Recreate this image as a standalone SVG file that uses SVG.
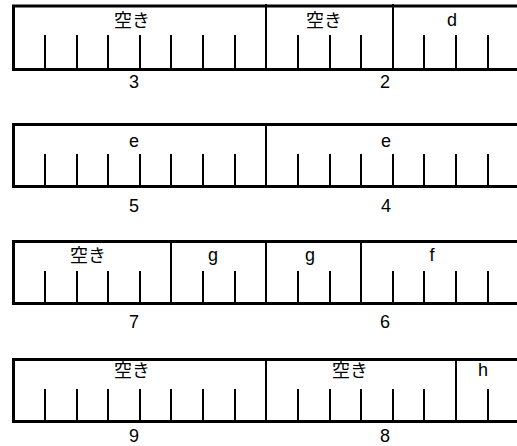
<svg xmlns="http://www.w3.org/2000/svg" width="517" height="446" viewBox="0 0 517 446">
<style>
.frame{stroke:#000;stroke-width:3;fill:none;stroke-linecap:square}
.tick{stroke:#000;stroke-width:2;fill:none}
.div{stroke:#000;stroke-width:2;fill:none}
text{font-family:"Liberation Sans","Noto Sans CJK JP",Arial,sans-serif;font-size:18px;fill:#000;text-anchor:middle}
</style>
<rect width="517" height="446" fill="#fff"/>
<g id="row1">
<path class="frame" d="M13.5,69.5 V6 H517 M13.5,69.5 H517"/>
<path class="tick" d="M45,35V69M77,35V69M108,35V69M140,35V69M171,35V69M203,35V69M235,35V69M298,35V69M330,35V69M361,35V69M424,35V69M456,35V69M488,35V69"/>
<path class="div" d="M266,4V69M393,4V69"/>
<text x="132" y="27">空き</text>
<text x="324" y="27">空き</text>
<text x="452" y="26">d</text>
<text x="134" y="88">3</text>
<text x="385" y="88">2</text>
</g>
<g id="row2">
<path class="frame" d="M13.5,186.5 V124.5 H517 M13.5,186.5 H517"/>
<path class="tick" d="M45,154V186M77,154V186M108,154V186M140,154V186M171,154V186M203,154V186M235,154V186M298,154V186M330,154V186M361,154V186M393,154V186M424,154V186M456,154V186M488,154V186"/>
<path class="div" d="M266,124V186"/>
<text x="134" y="147">e</text>
<text x="386" y="147">e</text>
<text x="134" y="212">5</text>
<text x="386" y="212">4</text>
</g>
<g id="row3">
<path class="frame" d="M13.5,303.5 V241.5 H517 M13.5,303.5 H517"/>
<path class="tick" d="M45,271V303M77,271V303M108,271V303M140,271V303M203,271V303M235,271V303M298,271V303M330,271V303M393,271V303M424,271V303M456,271V303M488,271V303"/>
<path class="div" d="M171,241V303M266,241V303M361,241V303"/>
<text x="88" y="262">空き</text>
<text x="213" y="261">g</text>
<text x="310" y="261">g</text>
<text x="432" y="261">f</text>
<text x="134" y="328">7</text>
<text x="385" y="328">6</text>
</g>
<g id="row4">
<path class="frame" d="M13.5,421.5 V359.5 H517 M13.5,421.5 H517"/>
<path class="tick" d="M45,389V421M77,389V421M108,389V421M140,389V421M171,389V421M203,389V421M235,389V421M298,389V421M330,389V421M361,389V421M393,389V421M424,389V421M488,389V421"/>
<path class="div" d="M266,359V421M456,359V421"/>
<text x="132" y="377">空き</text>
<text x="350" y="377">空き</text>
<text x="483" y="376">h</text>
<text x="134" y="442">9</text>
<text x="385" y="442">8</text>
</g>
</svg>
